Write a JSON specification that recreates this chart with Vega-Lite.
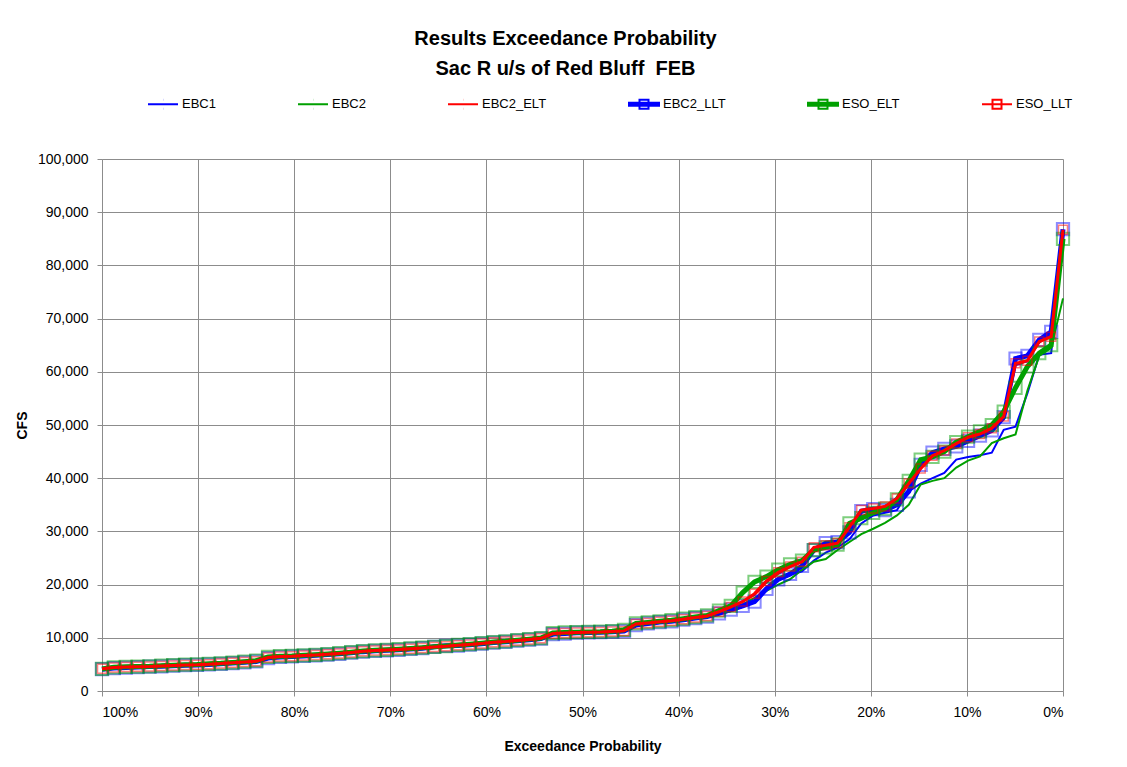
{
  "$schema": "https://vega.github.io/schema/vega-lite/v6.json",
  "width": 961,
  "height": 532,
  "autosize": "none",
  "padding": {"left": 102, "top": 159, "right": 64, "bottom": 76},
  "background": "white",
  "config": {
    "view": {"stroke": null},
    "font": "Liberation Sans",
    "axis": {
      "gridColor": "#8c8c8c",
      "gridWidth": 1,
      "domainColor": "#8c8c8c",
      "tickColor": "#8c8c8c",
      "tickSize": 5,
      "labelFont": "Liberation Sans",
      "labelFontSize": 14,
      "labelColor": "black",
      "titleFont": "Liberation Sans",
      "titleFontSize": 14,
      "titleFontWeight": "bold",
      "titleColor": "black"
    }
  },
  "title": {
    "text": "Results Exceedance Probability",
    "subtitle": "Sac R u/s of Red Bluff\u00a0 FEB",
    "font": "Liberation Sans",
    "fontSize": 20,
    "fontWeight": "bold",
    "color": "black",
    "subtitleFont": "Liberation Sans",
    "subtitleFontSize": 20,
    "subtitleFontWeight": "bold",
    "subtitleColor": "black",
    "subtitlePadding": 10,
    "anchor": "middle",
    "dx": -17,
    "offset": 9
  },
  "data": {
    "values": [
      {"p": 100, "EBC1": 4000, "EBC2": 4050, "EBC2_ELT": 4200, "EBC2_LLT": 4100, "ESO_ELT": 4150, "ESO_LLT": 4200},
      {"p": 98.77, "EBC1": 4250, "EBC2": 4300, "EBC2_ELT": 4400, "EBC2_LLT": 4300, "ESO_ELT": 4450, "ESO_LLT": 4400},
      {"p": 97.53, "EBC1": 4350, "EBC2": 4400, "EBC2_ELT": 4500, "EBC2_LLT": 4400, "ESO_ELT": 4550, "ESO_LLT": 4500},
      {"p": 96.3, "EBC1": 4450, "EBC2": 4500, "EBC2_ELT": 4550, "EBC2_LLT": 4500, "ESO_ELT": 4600, "ESO_LLT": 4550},
      {"p": 95.06, "EBC1": 4500, "EBC2": 4550, "EBC2_ELT": 4600, "EBC2_LLT": 4600, "ESO_ELT": 4650, "ESO_LLT": 4600},
      {"p": 93.83, "EBC1": 4600, "EBC2": 4650, "EBC2_ELT": 4700, "EBC2_LLT": 4650, "ESO_ELT": 4750, "ESO_LLT": 4700},
      {"p": 92.59, "EBC1": 4700, "EBC2": 4750, "EBC2_ELT": 4800, "EBC2_LLT": 4750, "ESO_ELT": 4850, "ESO_LLT": 4800},
      {"p": 91.36, "EBC1": 4800, "EBC2": 4850, "EBC2_ELT": 4900, "EBC2_LLT": 4850, "ESO_ELT": 4950, "ESO_LLT": 4900},
      {"p": 90.12, "EBC1": 4850, "EBC2": 4900, "EBC2_ELT": 4950, "EBC2_LLT": 4900, "ESO_ELT": 5000, "ESO_LLT": 4950},
      {"p": 88.89, "EBC1": 4950, "EBC2": 5000, "EBC2_ELT": 5050, "EBC2_LLT": 5000, "ESO_ELT": 5100, "ESO_LLT": 5050},
      {"p": 87.65, "EBC1": 5050, "EBC2": 5100, "EBC2_ELT": 5150, "EBC2_LLT": 5100, "ESO_ELT": 5200, "ESO_LLT": 5150},
      {"p": 86.42, "EBC1": 5200, "EBC2": 5250, "EBC2_ELT": 5300, "EBC2_LLT": 5250, "ESO_ELT": 5350, "ESO_LLT": 5300},
      {"p": 85.19, "EBC1": 5350, "EBC2": 5400, "EBC2_ELT": 5450, "EBC2_LLT": 5400, "ESO_ELT": 5500, "ESO_LLT": 5450},
      {"p": 83.95, "EBC1": 5500, "EBC2": 5550, "EBC2_ELT": 5700, "EBC2_LLT": 5550, "ESO_ELT": 5700, "ESO_LLT": 5600},
      {"p": 82.72, "EBC1": 6100, "EBC2": 6200, "EBC2_ELT": 6300, "EBC2_LLT": 6200, "ESO_ELT": 6400, "ESO_LLT": 6300},
      {"p": 81.48, "EBC1": 6300, "EBC2": 6400, "EBC2_ELT": 6500, "EBC2_LLT": 6400, "ESO_ELT": 6550, "ESO_LLT": 6500},
      {"p": 80.25, "EBC1": 6400, "EBC2": 6500, "EBC2_ELT": 6550, "EBC2_LLT": 6500, "ESO_ELT": 6600, "ESO_LLT": 6550},
      {"p": 79.01, "EBC1": 6500, "EBC2": 6600, "EBC2_ELT": 6650, "EBC2_LLT": 6600, "ESO_ELT": 6700, "ESO_LLT": 6650},
      {"p": 77.78, "EBC1": 6600, "EBC2": 6700, "EBC2_ELT": 6750, "EBC2_LLT": 6700, "ESO_ELT": 6800, "ESO_LLT": 6750},
      {"p": 76.54, "EBC1": 6750, "EBC2": 6850, "EBC2_ELT": 6900, "EBC2_LLT": 6850, "ESO_ELT": 6950, "ESO_LLT": 6900},
      {"p": 75.31, "EBC1": 6900, "EBC2": 7000, "EBC2_ELT": 7050, "EBC2_LLT": 7000, "ESO_ELT": 7100, "ESO_LLT": 7050},
      {"p": 74.07, "EBC1": 7100, "EBC2": 7200, "EBC2_ELT": 7250, "EBC2_LLT": 7200, "ESO_ELT": 7300, "ESO_LLT": 7250},
      {"p": 72.84, "EBC1": 7300, "EBC2": 7400, "EBC2_ELT": 7450, "EBC2_LLT": 7400, "ESO_ELT": 7500, "ESO_LLT": 7450},
      {"p": 71.6, "EBC1": 7450, "EBC2": 7550, "EBC2_ELT": 7600, "EBC2_LLT": 7550, "ESO_ELT": 7650, "ESO_LLT": 7600},
      {"p": 70.37, "EBC1": 7550, "EBC2": 7650, "EBC2_ELT": 7700, "EBC2_LLT": 7650, "ESO_ELT": 7750, "ESO_LLT": 7700},
      {"p": 69.14, "EBC1": 7650, "EBC2": 7750, "EBC2_ELT": 7800, "EBC2_LLT": 7750, "ESO_ELT": 7850, "ESO_LLT": 7800},
      {"p": 67.9, "EBC1": 7800, "EBC2": 7900, "EBC2_ELT": 7950, "EBC2_LLT": 7900, "ESO_ELT": 8000, "ESO_LLT": 7950},
      {"p": 66.67, "EBC1": 7950, "EBC2": 8050, "EBC2_ELT": 8100, "EBC2_LLT": 8050, "ESO_ELT": 8150, "ESO_LLT": 8100},
      {"p": 65.43, "EBC1": 8100, "EBC2": 8200, "EBC2_ELT": 8250, "EBC2_LLT": 8300, "ESO_ELT": 8300, "ESO_LLT": 8250},
      {"p": 64.2, "EBC1": 8300, "EBC2": 8350, "EBC2_ELT": 8400, "EBC2_LLT": 8500, "ESO_ELT": 8450, "ESO_LLT": 8400},
      {"p": 62.96, "EBC1": 8450, "EBC2": 8550, "EBC2_ELT": 8600, "EBC2_LLT": 8550, "ESO_ELT": 8650, "ESO_LLT": 8600},
      {"p": 61.73, "EBC1": 8600, "EBC2": 8700, "EBC2_ELT": 8750, "EBC2_LLT": 8700, "ESO_ELT": 8800, "ESO_LLT": 8750},
      {"p": 60.49, "EBC1": 8800, "EBC2": 8900, "EBC2_ELT": 8950, "EBC2_LLT": 8900, "ESO_ELT": 9000, "ESO_LLT": 8950},
      {"p": 59.26, "EBC1": 9000, "EBC2": 9100, "EBC2_ELT": 9150, "EBC2_LLT": 9100, "ESO_ELT": 9200, "ESO_LLT": 9150},
      {"p": 58.02, "EBC1": 9150, "EBC2": 9250, "EBC2_ELT": 9300, "EBC2_LLT": 9250, "ESO_ELT": 9350, "ESO_LLT": 9300},
      {"p": 56.79, "EBC1": 9350, "EBC2": 9450, "EBC2_ELT": 9500, "EBC2_LLT": 9450, "ESO_ELT": 9550, "ESO_LLT": 9500},
      {"p": 55.56, "EBC1": 9550, "EBC2": 9650, "EBC2_ELT": 9700, "EBC2_LLT": 9650, "ESO_ELT": 9750, "ESO_LLT": 9700},
      {"p": 54.32, "EBC1": 9750, "EBC2": 9850, "EBC2_ELT": 10000, "EBC2_LLT": 9850, "ESO_ELT": 9950, "ESO_LLT": 9900},
      {"p": 53.09, "EBC1": 10500, "EBC2": 10600, "EBC2_ELT": 10800, "EBC2_LLT": 10700, "ESO_ELT": 10900, "ESO_LLT": 10800},
      {"p": 51.85, "EBC1": 10700, "EBC2": 10800, "EBC2_ELT": 10900, "EBC2_LLT": 10800, "ESO_ELT": 11000, "ESO_LLT": 10900},
      {"p": 50.62, "EBC1": 10850, "EBC2": 10900, "EBC2_ELT": 11000, "EBC2_LLT": 10950, "ESO_ELT": 11050, "ESO_LLT": 11000},
      {"p": 49.38, "EBC1": 10900, "EBC2": 10950, "EBC2_ELT": 11050, "EBC2_LLT": 11000, "ESO_ELT": 11100, "ESO_LLT": 11050},
      {"p": 48.15, "EBC1": 10950, "EBC2": 11000, "EBC2_ELT": 11100, "EBC2_LLT": 11050, "ESO_ELT": 11150, "ESO_LLT": 11100},
      {"p": 46.91, "EBC1": 11050, "EBC2": 11100, "EBC2_ELT": 11200, "EBC2_LLT": 11150, "ESO_ELT": 11250, "ESO_LLT": 11200},
      {"p": 45.68, "EBC1": 11150, "EBC2": 11200, "EBC2_ELT": 11400, "EBC2_LLT": 11250, "ESO_ELT": 11500, "ESO_LLT": 11300},
      {"p": 44.44, "EBC1": 12200, "EBC2": 12300, "EBC2_ELT": 12600, "EBC2_LLT": 12400, "ESO_ELT": 12700, "ESO_LLT": 12600},
      {"p": 43.21, "EBC1": 12500, "EBC2": 12600, "EBC2_ELT": 12800, "EBC2_LLT": 12700, "ESO_ELT": 12900, "ESO_LLT": 12800},
      {"p": 41.98, "EBC1": 12800, "EBC2": 12850, "EBC2_ELT": 13000, "EBC2_LLT": 12950, "ESO_ELT": 13100, "ESO_LLT": 13000},
      {"p": 40.74, "EBC1": 13000, "EBC2": 13100, "EBC2_ELT": 13200, "EBC2_LLT": 13100, "ESO_ELT": 13300, "ESO_LLT": 13200},
      {"p": 39.51, "EBC1": 13300, "EBC2": 13400, "EBC2_ELT": 13500, "EBC2_LLT": 13400, "ESO_ELT": 13600, "ESO_LLT": 13500},
      {"p": 38.27, "EBC1": 13600, "EBC2": 13700, "EBC2_ELT": 13800, "EBC2_LLT": 13700, "ESO_ELT": 13900, "ESO_LLT": 13800},
      {"p": 37.04, "EBC1": 13900, "EBC2": 14000, "EBC2_ELT": 14100, "EBC2_LLT": 14000, "ESO_ELT": 14200, "ESO_LLT": 14100},
      {"p": 35.8, "EBC1": 14500, "EBC2": 14700, "EBC2_ELT": 14900, "EBC2_LLT": 14600, "ESO_ELT": 15100, "ESO_LLT": 14900},
      {"p": 34.57, "EBC1": 15000, "EBC2": 15500, "EBC2_ELT": 15700, "EBC2_LLT": 15300, "ESO_ELT": 16000, "ESO_LLT": 15800},
      {"p": 33.33, "EBC1": 15800, "EBC2": 16300, "EBC2_ELT": 16900, "EBC2_LLT": 16000, "ESO_ELT": 18500, "ESO_LLT": 16800},
      {"p": 32.1, "EBC1": 17000, "EBC2": 17500, "EBC2_ELT": 18000, "EBC2_LLT": 16800, "ESO_ELT": 20500, "ESO_LLT": 18300},
      {"p": 30.86, "EBC1": 19500, "EBC2": 18800, "EBC2_ELT": 20400, "EBC2_LLT": 19200, "ESO_ELT": 21500, "ESO_LLT": 20700},
      {"p": 29.63, "EBC1": 20800, "EBC2": 20000, "EBC2_ELT": 22000, "EBC2_LLT": 21000, "ESO_ELT": 22800, "ESO_LLT": 22300},
      {"p": 28.4, "EBC1": 21800, "EBC2": 21000, "EBC2_ELT": 23300, "EBC2_LLT": 22000, "ESO_ELT": 23800, "ESO_LLT": 23400},
      {"p": 27.16, "EBC1": 22500, "EBC2": 22800, "EBC2_ELT": 24400, "EBC2_LLT": 23500, "ESO_ELT": 24500, "ESO_LLT": 24300},
      {"p": 25.93, "EBC1": 24500, "EBC2": 24300, "EBC2_ELT": 26800, "EBC2_LLT": 26500, "ESO_ELT": 26500, "ESO_LLT": 27000},
      {"p": 24.69, "EBC1": 26000, "EBC2": 24800, "EBC2_ELT": 27300, "EBC2_LLT": 27800, "ESO_ELT": 27000, "ESO_LLT": 27400},
      {"p": 23.46, "EBC1": 27000, "EBC2": 26500, "EBC2_ELT": 27700, "EBC2_LLT": 28000, "ESO_ELT": 27500, "ESO_LLT": 27800},
      {"p": 22.22, "EBC1": 28500, "EBC2": 28000, "EBC2_ELT": 30500, "EBC2_LLT": 29800, "ESO_ELT": 31500, "ESO_LLT": 30800},
      {"p": 20.99, "EBC1": 31500, "EBC2": 29500, "EBC2_ELT": 33800, "EBC2_LLT": 33800, "ESO_ELT": 32500, "ESO_LLT": 34000},
      {"p": 19.75, "EBC1": 33000, "EBC2": 30500, "EBC2_ELT": 34200, "EBC2_LLT": 34200, "ESO_ELT": 33500, "ESO_LLT": 34300},
      {"p": 18.52, "EBC1": 33500, "EBC2": 31600, "EBC2_ELT": 34800, "EBC2_LLT": 34000, "ESO_ELT": 34300, "ESO_LLT": 34700},
      {"p": 17.28, "EBC1": 34000, "EBC2": 33000, "EBC2_ELT": 36000, "EBC2_LLT": 35000, "ESO_ELT": 36000, "ESO_LLT": 36200},
      {"p": 16.05, "EBC1": 37500, "EBC2": 35000, "EBC2_ELT": 39300, "EBC2_LLT": 37500, "ESO_ELT": 39500, "ESO_LLT": 39000},
      {"p": 14.81, "EBC1": 39000, "EBC2": 38800, "EBC2_ELT": 42000, "EBC2_LLT": 42500, "ESO_ELT": 43500, "ESO_LLT": 41800},
      {"p": 13.58, "EBC1": 40000, "EBC2": 39500, "EBC2_ELT": 44000, "EBC2_LLT": 44800, "ESO_ELT": 44000, "ESO_LLT": 44200},
      {"p": 12.35, "EBC1": 41000, "EBC2": 40000, "EBC2_ELT": 45300, "EBC2_LLT": 45500, "ESO_ELT": 45000, "ESO_LLT": 45200},
      {"p": 11.11, "EBC1": 43500, "EBC2": 42000, "EBC2_ELT": 46400, "EBC2_LLT": 46000, "ESO_ELT": 46800, "ESO_LLT": 46500},
      {"p": 9.88, "EBC1": 44000, "EBC2": 43300, "EBC2_ELT": 47600, "EBC2_LLT": 47000, "ESO_ELT": 47800, "ESO_LLT": 47700},
      {"p": 8.64, "EBC1": 44300, "EBC2": 44100, "EBC2_ELT": 48400, "EBC2_LLT": 48000, "ESO_ELT": 48800, "ESO_LLT": 48300},
      {"p": 7.41, "EBC1": 44800, "EBC2": 46600, "EBC2_ELT": 49300, "EBC2_LLT": 49000, "ESO_ELT": 50000, "ESO_LLT": 49400},
      {"p": 6.17, "EBC1": 49100, "EBC2": 47500, "EBC2_ELT": 51000, "EBC2_LLT": 51500, "ESO_ELT": 52500, "ESO_LLT": 51600},
      {"p": 4.94, "EBC1": 49700, "EBC2": 48200, "EBC2_ELT": 61200, "EBC2_LLT": 62500, "ESO_ELT": 57000, "ESO_LLT": 61600},
      {"p": 3.7, "EBC1": 56000, "EBC2": 56500, "EBC2_ELT": 62000, "EBC2_LLT": 63000, "ESO_ELT": 61000, "ESO_LLT": 62100},
      {"p": 2.47, "EBC1": 63200, "EBC2": 63000, "EBC2_ELT": 65500, "EBC2_LLT": 66000, "ESO_ELT": 63500, "ESO_LLT": 65700},
      {"p": 1.23, "EBC1": 63500, "EBC2": 64500, "EBC2_ELT": 66800, "EBC2_LLT": 67500, "ESO_ELT": 65000, "ESO_LLT": 66600},
      {"p": 0, "EBC1": 86000, "EBC2": 73800, "EBC2_ELT": 86300, "EBC2_LLT": 86800, "ESO_ELT": 85000, "ESO_LLT": 86700}
    ]
  },
  "transform": [
    {"fold": ["EBC1", "EBC2", "EBC2_ELT", "EBC2_LLT", "ESO_ELT", "ESO_LLT"], "as": ["series", "cfs"]}
  ],
  "encoding": {
    "x": {
      "field": "p",
      "type": "quantitative",
      "scale": {"domain": [100, 0], "nice": false, "zero": false},
      "axis": {
        "title": "Exceedance Probability",
        "values": [100, 90, 80, 70, 60, 50, 40, 30, 20, 10, 0],
        "labelExpr": "datum.value + '%'",
        "labelPadding": 9,
        "titlePadding": 20
      }
    },
    "y": {
      "field": "cfs",
      "type": "quantitative",
      "scale": {"domain": [0, 100000], "nice": false},
      "axis": {
        "title": "CFS",
        "values": [0, 10000, 20000, 30000, 40000, 50000, 60000, 70000, 80000, 90000, 100000],
        "format": ",d",
        "labelPadding": 9,
        "titlePadding": 8
      }
    },
    "color": {
      "field": "series",
      "type": "nominal",
      "scale": {
        "domain": ["EBC1", "EBC2", "EBC2_ELT", "EBC2_LLT", "ESO_ELT", "ESO_LLT"],
        "range": ["#0000ff", "#00a000", "#ff0000", "#0000ff", "#00a000", "#ff0000"]
      },
      "legend": {
        "title": null,
        "orient": "none",
        "legendX": 45,
        "legendY": -71,
        "direction": "horizontal",
        "columns": 6,
        "columnPadding": 78,
        "symbolType": "stroke",
        "symbolSize": 900,
        "symbolStrokeWidth": 2,
        "labelFont": "Liberation Sans",
        "labelFontSize": 13,
        "labelColor": "black",
        "labelOffset": 3,
        "encode": {
          "symbols": {
            "update": {
              "shape": {"signal": "datum.value === 'EBC2_LLT' || datum.value === 'ESO_ELT' ? 'M-1,-0.1H1V0.1H-1ZM-0.3,-0.3H0.3V0.3H-0.3ZM-0.3,-0.3V0.3H0.3V-0.3Z' : datum.value === 'ESO_LLT' ? 'M-1,0H1M-0.3,-0.3H0.3V0.3H-0.3Z' : 'M-1,0H1M0,-0.3h0.01M0,0.3h0.01'"},
              "strokeWidth": {"value": 2},
              "fill": {"signal": "datum.value === 'EBC2_LLT' || datum.value === 'ESO_ELT' ? scale('color', datum.value) : 'transparent'"},
              "opacity": {"value": 1}
            }
          }
        }
      }
    }
  },
  "layer": [
    {
      "transform": [{"filter": {"field": "series", "oneOf": ["EBC1", "EBC2", "EBC2_ELT"]}}],
      "mark": {"type": "line", "strokeWidth": 2}
    },
    {
      "transform": [{"filter": {"field": "series", "equal": "EBC2_LLT"}}],
      "mark": {"type": "line", "strokeWidth": 5}
    },
    {
      "transform": [{"filter": {"field": "series", "equal": "EBC2_LLT"}}],
      "mark": {"type": "point", "shape": "square", "filled": false, "size": 150, "strokeWidth": 2, "opacity": 0.45}
    },
    {
      "transform": [{"filter": {"field": "series", "equal": "ESO_ELT"}}],
      "mark": {"type": "line", "strokeWidth": 5}
    },
    {
      "transform": [{"filter": {"field": "series", "equal": "ESO_ELT"}}],
      "mark": {"type": "point", "shape": "square", "filled": false, "size": 150, "strokeWidth": 2, "opacity": 0.5}
    },
    {
      "transform": [{"filter": {"field": "series", "equal": "ESO_LLT"}}],
      "mark": {"type": "line", "strokeWidth": 3}
    },
    {
      "transform": [{"filter": {"field": "series", "equal": "ESO_LLT"}}],
      "mark": {"type": "point", "shape": "square", "filled": false, "size": 81, "strokeWidth": 1.5, "opacity": 0.5}
    }
  ]
}
